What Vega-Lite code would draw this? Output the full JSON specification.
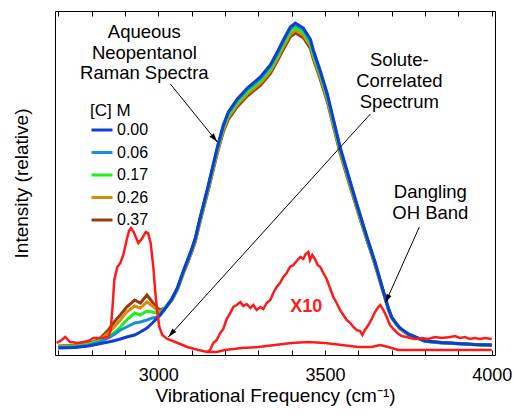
{
"$schema": "https://vega.github.io/schema/vega-lite/v6.json",
"width": 440, "height": 344,
"autosize": {"type": "none"},
"padding": {"left": 55, "top": 11, "right": 19, "bottom": 61},
"background": "white",
"config": {"font": "Liberation Sans", "view": {"stroke": "black", "strokeWidth": 1}},
"datasets": {
"spectra": [
{"c":"0.37","x":2700,"y":9},{"c":"0.37","x":2750,"y":9.5},{"c":"0.37","x":2790,"y":11.5},{"c":"0.37","x":2820,"y":15},{"c":"0.37","x":2850,"y":25},{"c":"0.37","x":2870,"y":34},{"c":"0.37","x":2886,"y":40},{"c":"0.37","x":2905,"y":48},{"c":"0.37","x":2929,"y":55},{"c":"0.37","x":2946,"y":52},{"c":"0.37","x":2966,"y":60},{"c":"0.37","x":2982,"y":53},{"c":"0.37","x":2997,"y":47},{"c":"0.37","x":3006,"y":45},{"c":"0.37","x":3020,"y":47},
{"c":"0.37","x":3040,"y":54.3},{"c":"0.37","x":3057,"y":65},{"c":"0.37","x":3075,"y":81.5},{"c":"0.37","x":3090,"y":94.1},{"c":"0.37","x":3100,"y":102.8},{"c":"0.37","x":3111,"y":113.5},{"c":"0.37","x":3125,"y":132.9},{"c":"0.37","x":3150,"y":164.9},{"c":"0.37","x":3177,"y":201.8},{"c":"0.37","x":3195,"y":223.1},{"c":"0.37","x":3210,"y":235.7},{"c":"0.37","x":3237,"y":248.3},{"c":"0.37","x":3267,"y":259},{"c":"0.37","x":3306,"y":269.7},{"c":"0.37","x":3336,"y":281.3},{"c":"0.37","x":3357,"y":293.9},{"c":"0.37","x":3375,"y":305.6},{"c":"0.37","x":3396,"y":318.2},{"c":"0.37","x":3411,"y":322},{"c":"0.37","x":3435,"y":317.2},{"c":"0.37","x":3456,"y":306.5},{"c":"0.37","x":3465,"y":295.9},{"c":"0.37","x":3486,"y":275.5},{"c":"0.37","x":3507,"y":253.2},{"c":"0.37","x":3525,"y":228.9},{"c":"0.37","x":3546,"y":200.8},{"c":"0.37","x":3575,"y":168.8},{"c":"0.37","x":3600,"y":141.6},{"c":"0.37","x":3625,"y":115.4},{"c":"0.37","x":3650,"y":90.2},{"c":"0.37","x":3675,"y":62.1},{"c":"0.37","x":3690,"y":45.6},{"c":"0.37","x":3700,"y":36.9},{"c":"0.37","x":3715,"y":30.1},{"c":"0.37","x":3725,"y":26.2},{"c":"0.37","x":3750,"y":20.4},{"c":"0.37","x":3800,"y":13.6},{"c":"0.37","x":3850,"y":12.1},{"c":"0.37","x":3900,"y":11.2},{"c":"0.37","x":3950,"y":10.2},{"c":"0.37","x":4000,"y":9.7},
{"c":"0.26","x":2700,"y":8.5},{"c":"0.26","x":2750,"y":9},{"c":"0.26","x":2790,"y":11},{"c":"0.26","x":2820,"y":14},{"c":"0.26","x":2850,"y":22},{"c":"0.26","x":2870,"y":29},{"c":"0.26","x":2886,"y":35},{"c":"0.26","x":2905,"y":43},{"c":"0.26","x":2929,"y":49},{"c":"0.26","x":2946,"y":47},{"c":"0.26","x":2966,"y":53},{"c":"0.26","x":2982,"y":49},{"c":"0.26","x":2997,"y":45},{"c":"0.26","x":3006,"y":43},{"c":"0.26","x":3020,"y":47},
{"c":"0.26","x":3040,"y":54.8},{"c":"0.26","x":3057,"y":65.5},{"c":"0.26","x":3075,"y":82.2},{"c":"0.26","x":3090,"y":94.9},{"c":"0.26","x":3100,"y":103.7},{"c":"0.26","x":3111,"y":114.4},{"c":"0.26","x":3125,"y":134},{"c":"0.26","x":3150,"y":166.3},{"c":"0.26","x":3177,"y":203.4},{"c":"0.26","x":3195,"y":224.9},{"c":"0.26","x":3210,"y":237.7},{"c":"0.26","x":3237,"y":250.4},{"c":"0.26","x":3267,"y":261.1},{"c":"0.26","x":3306,"y":271.9},{"c":"0.26","x":3336,"y":283.6},{"c":"0.26","x":3357,"y":296.3},{"c":"0.26","x":3375,"y":308.1},{"c":"0.26","x":3396,"y":320.8},{"c":"0.26","x":3411,"y":324.7},{"c":"0.26","x":3435,"y":319.8},{"c":"0.26","x":3456,"y":309},{"c":"0.26","x":3465,"y":298.3},{"c":"0.26","x":3486,"y":277.8},{"c":"0.26","x":3507,"y":255.3},{"c":"0.26","x":3525,"y":230.8},{"c":"0.26","x":3546,"y":202.4},{"c":"0.26","x":3575,"y":170.2},{"c":"0.26","x":3600,"y":142.8},{"c":"0.26","x":3625,"y":116.4},{"c":"0.26","x":3650,"y":91},{"c":"0.26","x":3675,"y":62.6},{"c":"0.26","x":3690,"y":46},{"c":"0.26","x":3700,"y":37.2},{"c":"0.26","x":3715,"y":30.3},{"c":"0.26","x":3725,"y":26.4},{"c":"0.26","x":3750,"y":20.5},{"c":"0.26","x":3800,"y":13.7},{"c":"0.26","x":3850,"y":12.2},{"c":"0.26","x":3900,"y":11.2},{"c":"0.26","x":3950,"y":10.3},{"c":"0.26","x":4000,"y":9.8},
{"c":"0.17","x":2700,"y":8},{"c":"0.17","x":2750,"y":8.5},{"c":"0.17","x":2790,"y":10.5},{"c":"0.17","x":2820,"y":14},{"c":"0.17","x":2850,"y":18},{"c":"0.17","x":2870,"y":23},{"c":"0.17","x":2886,"y":28},{"c":"0.17","x":2905,"y":35},{"c":"0.17","x":2929,"y":42},{"c":"0.17","x":2946,"y":40},{"c":"0.17","x":2966,"y":44},{"c":"0.17","x":2982,"y":43},{"c":"0.17","x":2997,"y":42},{"c":"0.17","x":3006,"y":42},{"c":"0.17","x":3020,"y":47},
{"c":"0.17","x":3040,"y":55.2},{"c":"0.17","x":3057,"y":66.1},{"c":"0.17","x":3075,"y":82.8},{"c":"0.17","x":3090,"y":95.6},{"c":"0.17","x":3100,"y":104.5},{"c":"0.17","x":3111,"y":115.4},{"c":"0.17","x":3125,"y":135.1},{"c":"0.17","x":3150,"y":167.6},{"c":"0.17","x":3177,"y":205.1},{"c":"0.17","x":3195,"y":226.8},{"c":"0.17","x":3210,"y":239.6},{"c":"0.17","x":3237,"y":252.4},{"c":"0.17","x":3267,"y":263.3},{"c":"0.17","x":3306,"y":274.1},{"c":"0.17","x":3336,"y":285.9},{"c":"0.17","x":3357,"y":298.8},{"c":"0.17","x":3375,"y":310.6},{"c":"0.17","x":3396,"y":323.4},{"c":"0.17","x":3411,"y":327.4},{"c":"0.17","x":3435,"y":322.4},{"c":"0.17","x":3456,"y":311.6},{"c":"0.17","x":3465,"y":300.7},{"c":"0.17","x":3486,"y":280},{"c":"0.17","x":3507,"y":257.3},{"c":"0.17","x":3525,"y":232.7},{"c":"0.17","x":3546,"y":204.1},{"c":"0.17","x":3575,"y":171.6},{"c":"0.17","x":3600,"y":144},{"c":"0.17","x":3625,"y":117.3},{"c":"0.17","x":3650,"y":91.7},{"c":"0.17","x":3675,"y":63.1},{"c":"0.17","x":3690,"y":46.3},{"c":"0.17","x":3700,"y":37.5},{"c":"0.17","x":3715,"y":30.6},{"c":"0.17","x":3725,"y":26.6},{"c":"0.17","x":3750,"y":20.7},{"c":"0.17","x":3800,"y":13.8},{"c":"0.17","x":3850,"y":12.3},{"c":"0.17","x":3900,"y":11.3},{"c":"0.17","x":3950,"y":10.4},{"c":"0.17","x":4000,"y":9.9},
{"c":"0.06","x":2700,"y":7.5},{"c":"0.06","x":2750,"y":8},{"c":"0.06","x":2790,"y":9.5},{"c":"0.06","x":2820,"y":12.5},{"c":"0.06","x":2850,"y":17},{"c":"0.06","x":2870,"y":21},{"c":"0.06","x":2886,"y":25},{"c":"0.06","x":2905,"y":28},{"c":"0.06","x":2929,"y":32},{"c":"0.06","x":2946,"y":33},{"c":"0.06","x":2966,"y":35},{"c":"0.06","x":2982,"y":37},{"c":"0.06","x":2997,"y":38},{"c":"0.06","x":3006,"y":41},{"c":"0.06","x":3020,"y":47},
{"c":"0.06","x":3040,"y":55.7},{"c":"0.06","x":3057,"y":66.7},{"c":"0.06","x":3075,"y":83.6},{"c":"0.06","x":3090,"y":96.5},{"c":"0.06","x":3100,"y":105.5},{"c":"0.06","x":3111,"y":116.4},{"c":"0.06","x":3125,"y":136.3},{"c":"0.06","x":3150,"y":169.2},{"c":"0.06","x":3177,"y":207},{"c":"0.06","x":3195,"y":228.9},{"c":"0.06","x":3210,"y":241.8},{"c":"0.06","x":3237,"y":254.7},{"c":"0.06","x":3267,"y":265.7},{"c":"0.06","x":3306,"y":276.6},{"c":"0.06","x":3336,"y":288.6},{"c":"0.06","x":3357,"y":301.5},{"c":"0.06","x":3375,"y":313.4},{"c":"0.06","x":3396,"y":326.4},{"c":"0.06","x":3411,"y":330.3},{"c":"0.06","x":3435,"y":325.4},{"c":"0.06","x":3456,"y":314.4},{"c":"0.06","x":3465,"y":303.5},{"c":"0.06","x":3486,"y":282.6},{"c":"0.06","x":3507,"y":259.7},{"c":"0.06","x":3525,"y":234.8},{"c":"0.06","x":3546,"y":206},{"c":"0.06","x":3575,"y":173.1},{"c":"0.06","x":3600,"y":145.3},{"c":"0.06","x":3625,"y":118.4},{"c":"0.06","x":3650,"y":92.5},{"c":"0.06","x":3675,"y":63.7},{"c":"0.06","x":3690,"y":46.8},{"c":"0.06","x":3700,"y":37.8},{"c":"0.06","x":3715,"y":30.8},{"c":"0.06","x":3725,"y":26.9},{"c":"0.06","x":3750,"y":20.9},{"c":"0.06","x":3800,"y":13.9},{"c":"0.06","x":3850,"y":12.4},{"c":"0.06","x":3900,"y":11.4},{"c":"0.06","x":3950,"y":10.4},{"c":"0.06","x":4000,"y":10},
{"c":"0.00","x":2700,"y":7},{"c":"0.00","x":2750,"y":7.5},{"c":"0.00","x":2790,"y":9},{"c":"0.00","x":2820,"y":11},{"c":"0.00","x":2850,"y":13},{"c":"0.00","x":2870,"y":14.5},{"c":"0.00","x":2886,"y":16},{"c":"0.00","x":2905,"y":18},{"c":"0.00","x":2929,"y":20},{"c":"0.00","x":2946,"y":23},{"c":"0.00","x":2966,"y":27},{"c":"0.00","x":2982,"y":32},{"c":"0.00","x":2997,"y":37},{"c":"0.00","x":3006,"y":40},{"c":"0.00","x":3020,"y":46},
{"c":"0.00","x":3040,"y":56},{"c":"0.00","x":3057,"y":67},{"c":"0.00","x":3075,"y":84},{"c":"0.00","x":3090,"y":97},{"c":"0.00","x":3100,"y":106},{"c":"0.00","x":3111,"y":117},{"c":"0.00","x":3125,"y":137},{"c":"0.00","x":3150,"y":170},{"c":"0.00","x":3177,"y":208},{"c":"0.00","x":3195,"y":230},{"c":"0.00","x":3210,"y":243},{"c":"0.00","x":3237,"y":256},{"c":"0.00","x":3267,"y":267},{"c":"0.00","x":3306,"y":278},{"c":"0.00","x":3336,"y":290},{"c":"0.00","x":3357,"y":303},{"c":"0.00","x":3375,"y":315},{"c":"0.00","x":3396,"y":328},{"c":"0.00","x":3411,"y":332},{"c":"0.00","x":3435,"y":327},{"c":"0.00","x":3456,"y":316},{"c":"0.00","x":3465,"y":305},{"c":"0.00","x":3486,"y":284},{"c":"0.00","x":3507,"y":261},{"c":"0.00","x":3525,"y":236},{"c":"0.00","x":3546,"y":207},{"c":"0.00","x":3575,"y":174},{"c":"0.00","x":3600,"y":146},{"c":"0.00","x":3625,"y":119},{"c":"0.00","x":3650,"y":93},{"c":"0.00","x":3675,"y":64},{"c":"0.00","x":3690,"y":47},{"c":"0.00","x":3700,"y":38},{"c":"0.00","x":3715,"y":31},{"c":"0.00","x":3725,"y":27},{"c":"0.00","x":3750,"y":21},{"c":"0.00","x":3800,"y":14},{"c":"0.00","x":3850,"y":12.5},{"c":"0.00","x":3900,"y":11.5},{"c":"0.00","x":3950,"y":10.5},{"c":"0.00","x":4000,"y":10}
],
"solute": [
{"x":2695,"y":12},{"x":2710,"y":15},{"x":2721,"y":18},{"x":2735,"y":13},{"x":2760,"y":12},{"x":2790,"y":14},{"x":2805,"y":17},{"x":2830,"y":17},{"x":2850,"y":18},{"x":2857,"y":25},{"x":2862,"y":45},{"x":2868,"y":75},{"x":2877,"y":88},{"x":2886,"y":92},{"x":2895,"y":100},{"x":2905,"y":115},{"x":2912,"y":124},{"x":2918,"y":127},{"x":2926,"y":123},{"x":2940,"y":112},{"x":2952,"y":117},{"x":2962,"y":123},{"x":2969,"y":122},{"x":2977,"y":112},{"x":2985,"y":88},{"x":2991,"y":62},{"x":2997,"y":43},{"x":3003,"y":28},{"x":3012,"y":20},{"x":3027,"y":16},{"x":3051,"y":13},{"x":3087,"y":8},{"x":3120,"y":5},{"x":3147,"y":3},{"x":3175,"y":3},{"x":3200,"y":5},{"x":3250,"y":7},{"x":3300,"y":8},{"x":3350,"y":10},{"x":3400,"y":12},{"x":3450,"y":13},{"x":3500,"y":12},{"x":3550,"y":10},{"x":3600,"y":8},{"x":3640,"y":8},{"x":3665,"y":10},{"x":3690,"y":8},{"x":3720,"y":5},{"x":3800,"y":5},{"x":3900,"y":5},{"x":4000,"y":5}
],
"x10": [
{"x":3147,"y":3},{"x":3155,"y":5},{"x":3165,"y":12},{"x":3175,"y":15},{"x":3186,"y":22},{"x":3195,"y":26},{"x":3205,"y":36},{"x":3216,"y":42},{"x":3225,"y":48},{"x":3235,"y":50},{"x":3246,"y":53},{"x":3255,"y":49},{"x":3265,"y":51},{"x":3276,"y":47},{"x":3285,"y":50},{"x":3295,"y":45},{"x":3306,"y":48},{"x":3315,"y":46},{"x":3325,"y":52},{"x":3336,"y":55},{"x":3345,"y":62},{"x":3355,"y":68},{"x":3365,"y":72},{"x":3375,"y":78},{"x":3385,"y":82},{"x":3395,"y":88},{"x":3405,"y":90},{"x":3415,"y":94},{"x":3426,"y":98},{"x":3435,"y":96},{"x":3442,"y":101},{"x":3450,"y":103},{"x":3455,"y":95},{"x":3462,"y":100},{"x":3470,"y":96},{"x":3478,"y":90},{"x":3486,"y":88},{"x":3495,"y":82},{"x":3505,"y":76},{"x":3515,"y":67},{"x":3525,"y":58},{"x":3535,"y":52},{"x":3545,"y":45},{"x":3555,"y":40},{"x":3565,"y":35},{"x":3576,"y":32},{"x":3585,"y":28},{"x":3595,"y":25},{"x":3605,"y":24},{"x":3612,"y":20},{"x":3620,"y":25},{"x":3630,"y":30},{"x":3640,"y":36},{"x":3650,"y":43},{"x":3660,"y":48},{"x":3666,"y":50},{"x":3675,"y":45},{"x":3685,"y":38},{"x":3695,"y":30},{"x":3705,"y":26},{"x":3717,"y":22},{"x":3730,"y":19},{"x":3745,"y":18},{"x":3756,"y":17},{"x":3770,"y":16},{"x":3790,"y":17},{"x":3810,"y":16},{"x":3830,"y":18},{"x":3850,"y":17},{"x":3876,"y":18},{"x":3890,"y":19},{"x":3905,"y":17},{"x":3920,"y":18},{"x":3935,"y":16},{"x":3950,"y":17},{"x":3965,"y":16},{"x":3980,"y":17},{"x":4000,"y":16}
]
},
"resolve": {"axis": {"x": "independent", "y": "independent"}},
"layer": [
{
"data": {"name": "spectra"},
"mark": {"type": "line", "strokeWidth": 3, "clip": true},
"encoding": {
"x": {"field": "x", "type": "quantitative",
"scale": {"domain": [2690, 4010], "nice": false, "zero": false},
"axis": {"orient": "bottom", "offset": -5, "title": "Vibrational Frequency (cm⁻¹)", "values": [2700,2800,2900,3000,3100,3200,3300,3400,3500,3600,3700,3800,3900,4000], "format": "d", "labelExpr": "datum.value % 500 === 0 ? datum.label : ''", "labelFlush": false, "labelOverlap": false, "tickSize": 5, "tickColor": "black", "tickWidth": 1, "domain": false, "grid": false, "labelFontSize": 18, "labelColor": "black", "labelPadding": 11, "titleFontSize": 19, "titleFontWeight": "normal", "titleColor": "black", "titleY": 36.5}},
"y": {"field": "y", "type": "quantitative",
"scale": {"domain": [0, 344], "nice": false, "zero": false},
"axis": {"title": "Intensity (relative)", "labels": false, "ticks": false, "domain": false, "grid": false, "titleFontSize": 19, "titleFontWeight": "normal", "titleColor": "black", "titlePadding": 24}},
"color": {"field": "c", "type": "nominal",
"scale": {"domain": ["0.00","0.06","0.17","0.26","0.37"], "range": ["#0d3fd0","#1a8fd6","#1ef01e","#d38c0e","#9c3a0b"]},
"legend": {"orient": "none", "legendX": 35, "legendY": 92, "title": "[C] M", "titleFontSize": 17, "titleFontWeight": "normal", "titleColor": "black", "titlePadding": -2, "labelFontSize": 16, "labelColor": "black", "labelOffset": 3, "symbolType": "stroke", "symbolStrokeWidth": 3, "symbolSize": 441, "rowPadding": 2.5, "padding": 0}}
}
},
{
"data": {"name": "solute"},
"mark": {"type": "line", "strokeWidth": 2.5, "color": "#ff1a1a"},
"encoding": {"x": {"field": "x", "type": "quantitative", "axis": null}, "y": {"field": "y", "type": "quantitative", "axis": null}}
},
{
"data": {"name": "x10"},
"mark": {"type": "line", "strokeWidth": 2.5, "color": "#ff1a1a"},
"encoding": {
"x": {"field": "x", "type": "quantitative", "axis": {"orient": "top", "offset": -5, "labels": false, "title": null, "values": [2700,2800,2900,3000,3100,3200,3300,3400,3500,3600,3700,3800,3900,4000], "tickSize": 5, "tickColor": "black", "domain": false, "grid": false}},
"y": {"field": "y", "type": "quantitative", "axis": null}}
},
{
"data": {"values": [{}]},
"mark": {"type": "text", "text": "X10", "fontSize": 18, "fontWeight": "bold", "color": "#ff1a1a", "align": "center", "baseline": "middle"},
"encoding": {"x": {"datum": 3444, "axis": null}, "y": {"datum": 48, "axis": null}}
},
{
"data": {"values": [{}]},
"mark": {"type": "text", "text": ["Aqueous", "Neopentanol", "Raman Spectra"], "fontSize": 18.5, "lineHeight": 20.5, "color": "black", "align": "center", "baseline": "middle"},
"encoding": {"x": {"datum": 2958, "axis": null}, "y": {"datum": 323, "axis": null}}
},
{
"data": {"values": [{}]},
"mark": {"type": "text", "text": ["Solute-", "Correlated", "Spectrum"], "fontSize": 18.5, "lineHeight": 21, "color": "black", "align": "center", "baseline": "middle"},
"encoding": {"x": {"datum": 3723, "axis": null}, "y": {"datum": 295, "axis": null}}
},
{
"data": {"values": [{}]},
"mark": {"type": "text", "text": ["Dangling", "OH Band"], "fontSize": 18.5, "lineHeight": 21, "color": "black", "align": "center", "baseline": "middle"},
"encoding": {"x": {"datum": 3816, "axis": null}, "y": {"datum": 163, "axis": null}}
},
{
"data": {"values": [{}]},
"mark": {"type": "rule", "strokeWidth": 1, "color": "black"},
"encoding": {"x": {"datum": 3036, "axis": null}, "y": {"datum": 271, "axis": null}, "x2": {"datum": 3177}, "y2": {"datum": 213}}
},
{
"data": {"values": [{}]},
"mark": {"type": "rule", "strokeWidth": 1, "color": "black"},
"encoding": {"x": {"datum": 3636, "axis": null}, "y": {"datum": 241, "axis": null}, "x2": {"datum": 3030}, "y2": {"datum": 18}}
},
{
"data": {"values": [{}]},
"mark": {"type": "rule", "strokeWidth": 1, "color": "black"},
"encoding": {"x": {"datum": 3783, "axis": null}, "y": {"datum": 128, "axis": null}, "x2": {"datum": 3681}, "y2": {"datum": 52}}
},
{
"data": {"values": [{}]},
"mark": {"type": "point", "shape": "M0,0L-0.3,1L0.3,1Z", "filled": true, "color": "black", "opacity": 1, "size": 324, "angle": 141},
"encoding": {"x": {"datum": 3177, "axis": null}, "y": {"datum": 213, "axis": null}}
},
{
"data": {"values": [{}]},
"mark": {"type": "point", "shape": "M0,0L-0.3,1L0.3,1Z", "filled": true, "color": "black", "opacity": 1, "size": 324, "angle": 222},
"encoding": {"x": {"datum": 3030, "axis": null}, "y": {"datum": 18, "axis": null}}
},
{
"data": {"values": [{}]},
"mark": {"type": "point", "shape": "M0,0L-0.3,1L0.3,1Z", "filled": true, "color": "black", "opacity": 1, "size": 324, "angle": 204},
"encoding": {"x": {"datum": 3681, "axis": null}, "y": {"datum": 52, "axis": null}}
}
]
}
